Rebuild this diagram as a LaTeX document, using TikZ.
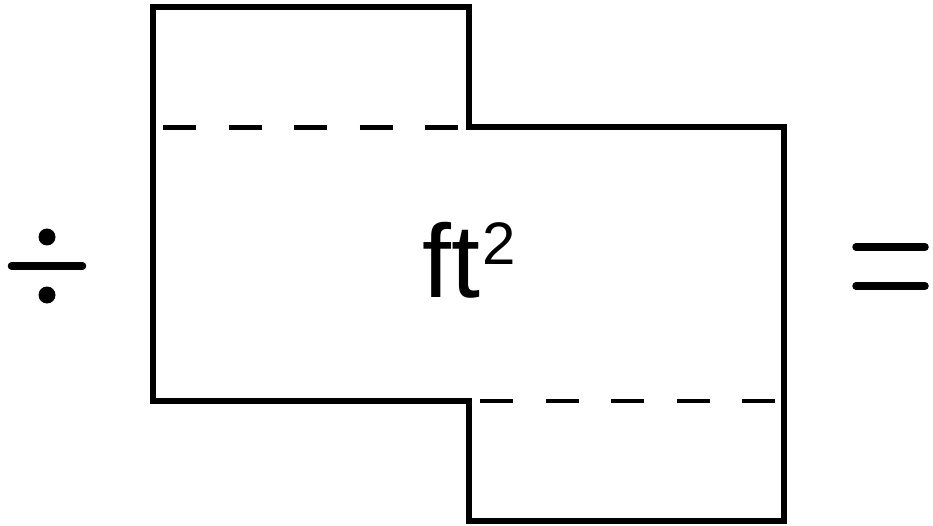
\documentclass[tikz,border=0pt]{standalone}
\usepackage{fontspec}
\setmainfont{Liberation Sans}
\tikzstyle{outline}=[line width=6pt, line join=miter]
\tikzstyle{fold_line}=[line width=4.5pt, dash pattern=on 33pt off 32.5pt]
\tikzstyle{sign_bar}=[line width=7.5pt, line cap=round]
\tikzstyle{sign_dot}=[circle, fill=black, inner sep=0pt, minimum size=17pt]

\begin{document}
\begin{tikzpicture}[x=1pt, y=-1pt]
    \useasboundingbox (0,0) rectangle (933,526);

    % the step-shaped area
    \draw[outline] (153,7) -- (469,7) -- (469,127.5) -- (784,127.5)
        -- (784,521) -- (469,521) -- (469,401) -- (153,401) -- cycle;
    \coordinate (TL) at (163,127.5);
    \coordinate (TR) at (458,127.5);
    \coordinate (BL) at (480,401);
    \coordinate (BR) at (775,401);
    \draw[fold_line] (TL) -- (TR);
    \draw[fold_line] (BL) -- (BR);

    \node at (469,298) (unit) [anchor=base, inner sep=0pt]
        {\fontsize{104}{104}\selectfont ft\kern2pt\raisebox{33pt}{\fontsize{60}{60}\selectfont 2}};

    % division sign
    \coordinate (DivL) at (11.5,266);
    \coordinate (DivR) at (82.5,266);
    \draw[sign_bar] (DivL) -- (DivR);
    \node at (47,237) (DotUp) [sign_dot] {};
    \node at (47,295) (DotDown) [sign_dot] {};

    % equals sign
    \coordinate (EqAL) at (856,247);
    \coordinate (EqAR) at (925,247);
    \coordinate (EqBL) at (856,286);
    \coordinate (EqBR) at (925,286);
    \draw[sign_bar] (EqAL) -- (EqAR);
    \draw[sign_bar] (EqBL) -- (EqBR);
\end{tikzpicture}
\end{document}
